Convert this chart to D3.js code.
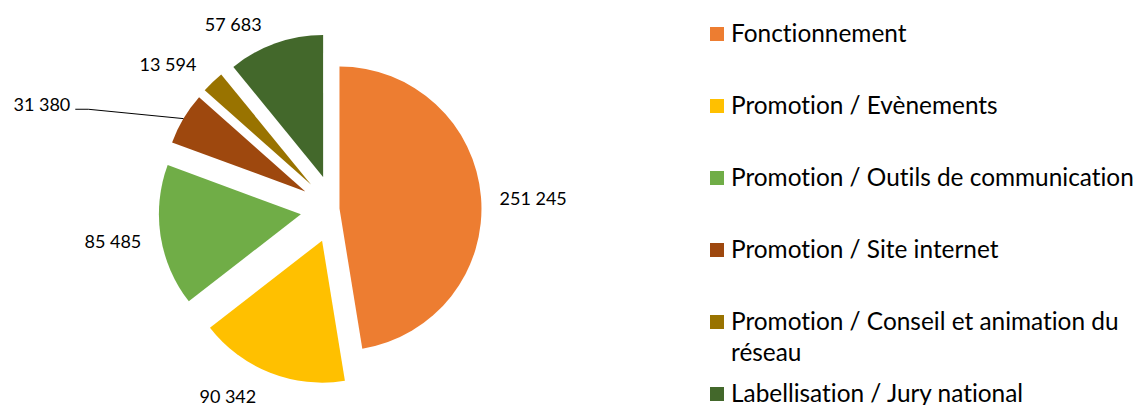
<!DOCTYPE html>
<html>
<head>
<meta charset="utf-8">
<script src="https://cdn.jsdelivr.net/npm/d3@7"></script>
<style>
  html, body { margin: 0; padding: 0; background: #ffffff; }
  svg { display: block; font-family: Lato, "Open Sans", sans-serif; font-variant-ligatures: none; font-feature-settings: "liga" 0, "clig" 0; }
</style>
</head>
<body>
<svg id="chart" width="1142" height="405"></svg>
<script>
// ---- data ----
const categories = [
  "Fonctionnement",
  "Promotion / Evènements",
  "Promotion / Outils de communication",
  "Promotion / Site internet",
  "Promotion / Conseil et animation du réseau",
  "Labellisation / Jury national"
];
const values = [251245, 90342, 85485, 31380, 13594, 57683];
const valueLabels = ["251 245", "90 342", "85 485", "31 380", "13 594", "57 683"];
const colors = ["#ED7D31", "#FFC000", "#70AD47", "#9E480E", "#997300", "#43682B"];

// ---- layout (styling, not data) ----
const cx = 334.5, cy = 209, R = 142;
const explode = [5, 34, 34, 34, 34, 34];
// label placement: angular shift (deg) from slice mid-angle and distance from centre
const labelLayout = [
  {shift: 1.4, dist: 199},
  {shift: 8.3, dist: 215},
  {shift: 0.5, dist: 224},
  {shift: -11.1, dist: 311, leader: true},
  {shift: -5.1, dist: 221},
  {shift: -9.1, dist: 211}
];

const svg = d3.select("#chart");
const pie = d3.pie().value(d => d).sort(null).startAngle(0).endAngle(2 * Math.PI);
const arcs = pie(values);
const arcGen = d3.arc().innerRadius(0).outerRadius(R);

const g = svg.append("g").attr("transform", `translate(${cx},${cy})`);

function polar(angle, r) { return [Math.sin(angle) * r, -Math.cos(angle) * r]; }

g.selectAll("path.slice")
  .data(arcs)
  .join("path")
  .attr("class", "slice")
  .attr("d", arcGen)
  .attr("fill", (d, i) => colors[i])
  .attr("transform", (d, i) => {
    const mid = (d.startAngle + d.endAngle) / 2;
    const [dx, dy] = polar(mid, explode[i]);
    return `translate(${dx},${dy})`;
  });

// value labels
arcs.forEach((d, i) => {
  const mid = (d.startAngle + d.endAngle) / 2;
  const L = labelLayout[i];
  const a = mid + L.shift * Math.PI / 180;
  const [lx, ly] = polar(a, L.dist);
  const t = g.append("text")
    .attr("x", lx).attr("y", ly)
    .attr("text-anchor", "middle")
    .attr("dominant-baseline", "central")
    .attr("font-size", 18)
    .attr("fill", "#000")
    .text(valueLabels[i]);
  if (L.leader) {
    const bb = t.node().getBBox();
    const [sx, sy] = polar(mid, R + explode[i]);
    const right = bb.x + bb.width;
    const yLine = ly + 5.6;
    g.append("path")
      .attr("d", `M${sx},${sy} L${right + 18},${yLine} L${right + 5},${yLine}`)
      .attr("fill", "none")
      .attr("stroke", "#000")
      .attr("stroke-width", 1);
  }
});

// legend
const legendX = 710, legendY0 = 34, legendStep = 72, lineH = 31;
const legendLines = [
  ["Fonctionnement"],
  ["Promotion / Evènements"],
  ["Promotion / Outils de communication"],
  ["Promotion / Site internet"],
  ["Promotion / Conseil et animation du", "réseau"],
  ["Labellisation / Jury national"]
];
const lg = svg.append("g");
categories.forEach((c, i) => {
  const yc = legendY0 + i * legendStep;
  lg.append("rect")
    .attr("x", legendX).attr("y", yc - 7)
    .attr("width", 14).attr("height", 14)
    .attr("fill", colors[i]);
  const t = lg.append("text")
    .attr("x", legendX + 21)
    .attr("y", yc + 8)
    .attr("font-size", 24.4)
    .attr("fill", "#000");
  legendLines[i].forEach((ln, j) => {
    t.append("tspan")
      .attr("x", legendX + 21)
      .attr("dy", j === 0 ? 0 : lineH)
      .text(ln);
  });
});
</script>
</body>
</html>
